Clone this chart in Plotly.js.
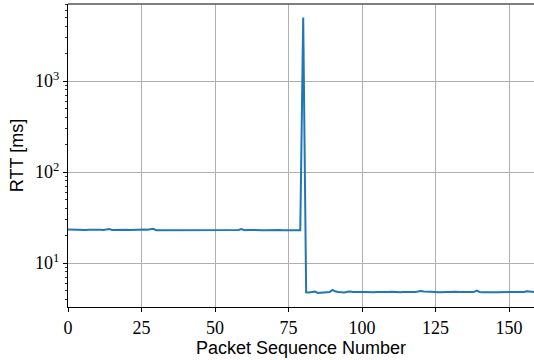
<!DOCTYPE html>
<html>
<head>
<meta charset="utf-8">
<script src="https://cdn.plot.ly/plotly-3.0.1.min.js"></script>
<style>html,body{margin:0;padding:0;background:#fff;}#chart{width:534px;height:360px;}</style>
</head>
<body>
<div id="chart"></div>
<script>
// RTT per packet sequence number (ms)
const rttBefore = [
  23.3,23.2,23.3,23.1,23.2,23.2,23.1,23.2,23.3,23.2,
  23.1,23.2,23.1,23.2,23.6,23.1,23.2,23.1,23.2,23.1,
  23.2,23.1,23.2,23.3,23.2,23.2,23.3,23.2,23.4,23.8,
  23.0,23.0,23.1,23.0,23.0,23.1,23.0,23.0,23.1,23.0,
  23.0,23.0,23.1,22.8,23.0,23.0,23.1,23.0,23.0,23.0,
  23.0,23.0,23.1,23.0,23.0,23.0,23.1,23.0,23.1,23.6,
  23.0,23.1,23.0,23.0,23.1,23.0,23.0,23.0,23.1,23.0,
  23.0,23.0,23.1,23.0,23.0,23.0,23.1,23.0,23.0,23.0
];
const rttSpike = [5000];
const rttAfter = [
  4.76,4.74,4.80,4.86,4.70,4.73,4.78,4.80,4.82,5.06,
  4.86,4.80,4.78,4.76,4.84,4.88,4.80,4.77,4.76,4.80,
  4.82,4.78,4.76,4.79,4.82,4.80,4.78,4.77,4.80,4.83,
  4.80,4.77,4.78,4.82,4.80,4.78,4.80,4.82,4.86,4.92,
  4.88,4.84,4.80,4.82,4.80,4.78,4.80,4.82,4.79,4.78,
  4.80,4.83,4.80,4.78,4.76,4.80,4.82,4.80,4.98,4.82,
  4.78,4.80,4.82,4.80,4.77,4.78,4.80,4.79,4.78,4.80,
  4.82,4.80,4.78,4.76,4.82,4.90,4.84,4.80,4.80
];
const xTicks = [0,25,50,75,100,125,150];
const yTicks = [10,100,1000];
const yTickText = ['10<sup>1</sup>','10<sup>2</sup>','10<sup>3</sup>'];
const yMinor = [4,5,6,7,8,9,20,30,40,50,60,70,80,90,200,300,400,500,600,700,800,900,2000,3000,4000,5000,6000,7000];

const rtt = rttBefore.concat(rttSpike, rttAfter);
const seq = rtt.map((v,i)=>i);

const serif = '"Liberation Serif", "DejaVu Serif", serif';
const sans = '"Liberation Sans", "DejaVu Sans", sans-serif';

Plotly.newPlot('chart', [{
  x: seq, y: rtt, type: 'scatter', mode: 'lines',
  line: {color: '#1f77b4', width: 2}, hoverinfo: 'skip'
}], {
  width: 534, height: 360,
  margin: {l: 68, r: 0, t: 4, b: 53, pad: 0},
  paper_bgcolor: '#fff', plot_bgcolor: '#fff',
  showlegend: false,
  xaxis: {
    range: [0, 158.5], tickvals: xTicks, ticktext: xTicks.map(String),
    ticks: 'outside', ticklen: 4, tickwidth: 1, tickcolor: '#000',
    showgrid: true, gridcolor: '#b0b0b0', gridwidth: 1,
    zeroline: false, showline: true, linecolor: '#000', linewidth: 1,
    tickfont: {family: serif, size: 18, color: '#000'},
    title: {text: 'Packet Sequence Number', font: {family: sans, size: 18, color: '#000'}, standoff: 4}
  },
  yaxis: {
    type: 'log', range: [Math.log10(3.29), Math.log10(7015)],
    tickvals: yTicks, ticktext: yTickText,
    ticks: 'outside', ticklen: 4, tickwidth: 1, tickcolor: '#000',
    minor: {tickmode: 'array', tickvals: yMinor, ticks: 'outside', ticklen: 2, tickwidth: 0.8, tickcolor: '#000', showgrid: false},
    showgrid: true, gridcolor: '#b0b0b0', gridwidth: 1,
    zeroline: false, showline: true, linecolor: '#000', linewidth: 1,
    tickfont: {family: serif, size: 18, color: '#000'},
    title: {text: 'RTT [ms]', font: {family: sans, size: 18, color: '#000'}, standoff: 6}
  },
  shapes: [{type: 'line', xref: 'paper', yref: 'paper', x0: 0, x1: 1, y0: 1, y1: 1,
            line: {color: '#555', width: 1.3}}]
}, {staticPlot: true, displayModeBar: false});
</script>
</body>
</html>
